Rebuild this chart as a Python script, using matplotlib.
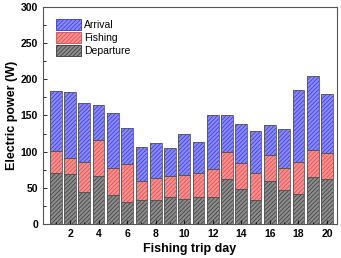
import numpy as np
import matplotlib.pyplot as plt
from matplotlib.patches import Patch

plt.rcParams['font.family'] = ['Liberation Sans', 'DejaVu Sans']
plt.rcParams['hatch.linewidth'] = 0.5

days = np.arange(1, 21)
departure = [70, 69, 45, 67, 40, 31, 34, 33, 38, 35, 38, 38, 63, 48, 34, 60, 47, 42, 65, 63]
fishing_top = [101, 92, 86, 116, 77, 83, 59, 64, 67, 68, 70, 76, 99, 85, 71, 95, 78, 86, 103, 98]
total = [184, 182, 167, 165, 153, 133, 106, 112, 105, 125, 113, 150, 151, 138, 128, 137, 131, 185, 205, 180]

departure = np.array(departure)
fishing = np.array(fishing_top) - departure
arrival = np.array(total) - np.array(fishing_top)

fig = plt.figure(figsize=(3.41, 2.58), dpi=100)
ax = fig.add_axes([0.126, 0.131, 0.862, 0.843])

w = 0.82
series = [
    ('Departure', departure, 0, '#8c8c8c', '#383838'),
    ('Fishing', fishing, departure, '#ff8c8c', '#c85050'),
    ('Arrival', arrival, departure + fishing, '#8888ff', '#3838c8'),
]
for name, vals, base, fc, hc in series:
    ax.bar(days, vals, w, bottom=base, color=fc, edgecolor=hc, hatch='////////', linewidth=0)
    ax.bar(days, vals, w, bottom=base, fill=False, edgecolor='#555555', linewidth=0.6)

handles = [Patch(facecolor=fc, edgecolor=hc, hatch='////////', linewidth=0.6, label=name)
           for name, vals, base, fc, hc in series[::-1]]
ax.legend(handles=handles, loc='upper left', frameon=False, fontsize=7.5,
          handlelength=2.4, handleheight=1.2, labelspacing=0.2, handletextpad=0.3,
          borderaxespad=0.3, bbox_to_anchor=(0.02, 0.975))

ax.set_xlim(0.1, 20.7)
ax.set_ylim(0, 300)
ax.set_xticks(np.arange(2, 21, 2))
ax.set_xticks(np.arange(1, 21, 2), minor=True)
ax.set_yticks(np.arange(0, 301, 50))
ax.set_yticks(np.arange(25, 300, 50), minor=True)
ax.tick_params(direction='in', which='both', labelsize=7.5, width=0.6)
ax.tick_params(which='major', length=3)
ax.tick_params(which='minor', length=1.8)
for lab in ax.get_xticklabels() + ax.get_yticklabels():
    lab.set_fontweight('bold')
for s in ax.spines.values():
    s.set_linewidth(0.8)
    s.set_color('#555555')

ax.set_xlabel('Fishing trip day', fontsize=9, fontweight='bold', labelpad=3)
ax.set_ylabel('Electric power (W)', fontsize=9, fontweight='bold', labelpad=2)

fig.savefig('out.png', dpi=100)
